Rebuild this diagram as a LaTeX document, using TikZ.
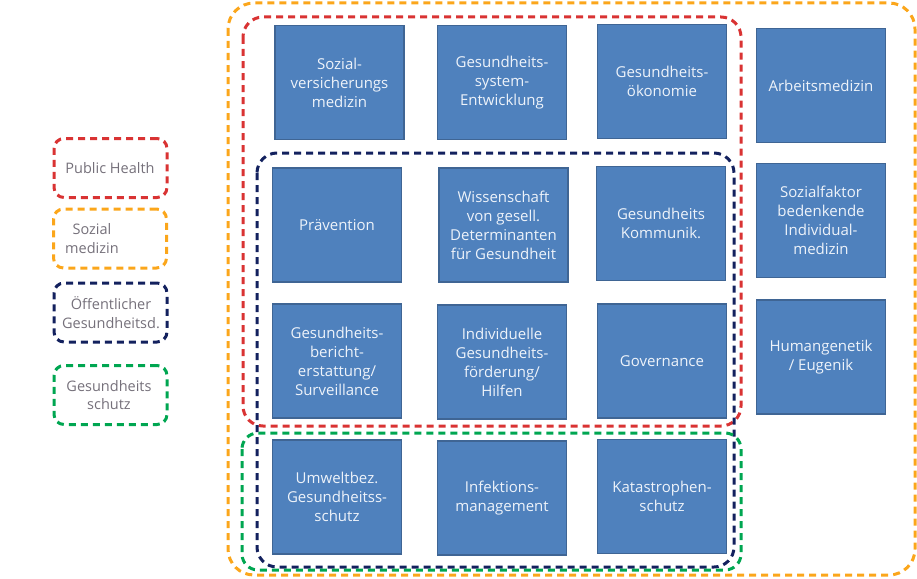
\documentclass[tikz,border=0pt]{standalone}
\usepackage{fontspec}
\setmainfont{Open Sans}
\definecolor{boxfill}{HTML}{4F81BD}
\definecolor{boxline}{HTML}{3F6594}
\definecolor{phred}{HTML}{D93333}
\definecolor{smorange}{HTML}{FBA61B}
\definecolor{oegnavy}{HTML}{13215E}
\definecolor{gsgreen}{HTML}{00A651}
\definecolor{legtxt}{HTML}{75707A}
\definecolor{boxtxt}{HTML}{EEF3FA}
\tikzset{
  fld/.style={draw=boxline, fill=boxfill, line width=1.6pt, minimum width=129pt, minimum height=114pt,
    inner sep=0pt, text=boxtxt, align=center, font=\fontsize{15}{19}\selectfont},
  frame/.style={line width=3pt, dash pattern=on 7pt off 5pt, rounded corners=#1},
  legbox/.style={draw=#1, line width=3pt, dash pattern=on 7pt off 5pt, rounded corners=10pt,
    minimum width=113pt, minimum height=59pt, inner sep=0pt},
  legtext/.style={text=legtxt, align=center, font=\fontsize{14.5}{18.5}\selectfont, inner sep=0pt}
}
\begin{document}
\begin{tikzpicture}[x=1pt,y=-1pt]
\useasboundingbox (0,0) rectangle (917,578);
% boxes row 1
\node[fld] (svm) at (339.5,82.5) {Sozial-\\versicherungs\\medizin};
\node[fld] (gse) at (502,82.5) {Gesundheits-\\system-\\Entwicklung};
\node[fld] (gok) at (662,81.5) {Gesundheits-\\ökonomie};
\node[fld] (arb) at (821,85.5) {Arbeitsmedizin};
% row 2
\node[fld] (prv) at (337,225) {Prävention};
\node[fld] (wis) at (503.5,225) {Wissenschaft\\von gesell.\\Determinanten\\für Gesundheit};
\node[fld] (kom) at (661,223.5) {Gesundheits\\Kommunik.};
\node[fld] (szf) at (821,220.5) {Sozialfaktor\\bedenkende\\Individual-\\medizin};
% row 3
\node[fld] (gbe) at (337,361) {Gesundheits-\\bericht-\\erstattung/\\Surveillance};
\node[fld] (igf) at (502,362) {Individuelle\\Gesundheits-\\förderung/\\Hilfen};
\node[fld] (gov) at (662,361) {Governance};
\node[fld] (hge) at (821,357) {Humangenetik\\/ Eugenik};
% row 4
\node[fld] (ugs) at (337,497) {Umweltbez.\\Gesundheitss-\\schutz};
\node[fld] (ifm) at (502,498) {Infektions-\\management};
\node[fld] (kat) at (662,496.5) {Katastrophen-\\schutz};
% frames
\draw[frame=26pt, smorange] (228,3) rectangle (915,575);
\draw[frame=20pt, phred] (243,17) rectangle (741,426);
\draw[frame=20pt, oegnavy] (257,153) rectangle (734,567);
\draw[frame=16pt, gsgreen] (242,433) rectangle (741,570);
% legend
\node[legbox=phred] (lph) at (110.5,168) {};
\node[legtext] (lpht) at (110,168) {Public Health};
\node[legbox=smorange] (lsm) at (110,238.5) {};
\node[legtext] (lsmt) at (92,238.5) {Sozial\\medizin};
\node[legbox=oegnavy] (log) at (110.5,312.5) {};
\node[legtext] (logt) at (111,312.5) {Öffentlicher\\Gesundheitsd.};
\node[legbox=gsgreen] (lgs) at (110.5,395) {};
\node[legtext] (lgst) at (109,395) {Gesundheits\\schutz};
\end{tikzpicture}
\end{document}
